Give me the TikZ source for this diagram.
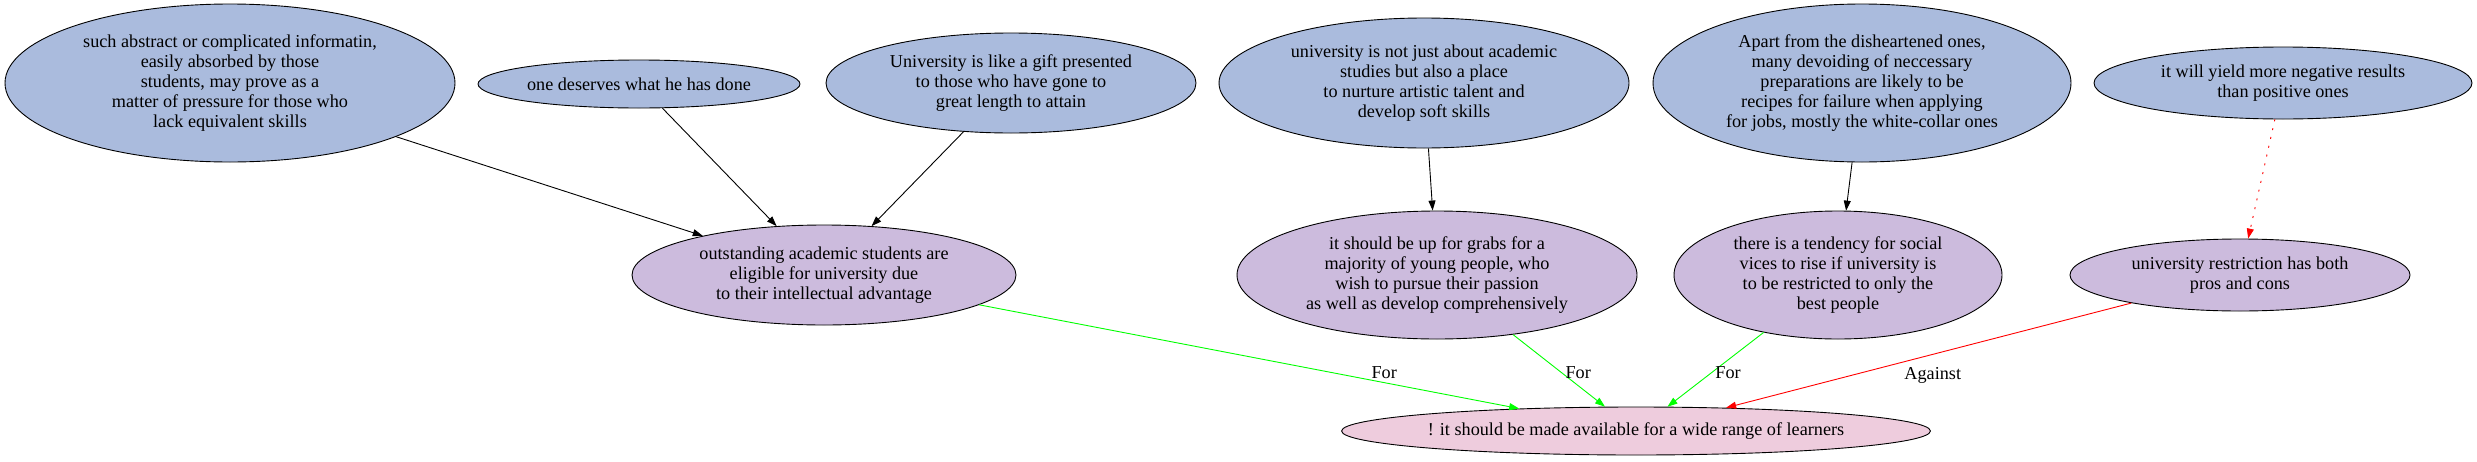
\documentclass[tikz,border=0pt]{standalone}
\usepackage{fontspec}
\setmainfont{Liberation Serif}
\usetikzlibrary{shapes.geometric,arrows.meta}

\definecolor{claimblue}{HTML}{AABBDD}
\definecolor{premisepurple}{HTML}{CCBBDD}
\definecolor{issuepink}{HTML}{EECCDD}

\begin{document}
\begin{tikzpicture}[x=1pt, y=-1pt,
    every node/.style={font=\fontsize{18.2}{20}\selectfont},
    argnode/.style={ellipse, draw, line width=0.9pt, inner sep=0pt, align=center},
    toprow/.style={argnode, fill=claimblue},
    midrow/.style={argnode, fill=premisepurple},
    link/.style={line width=0.9pt, -{Triangle[length=10pt,width=7pt]}},
    forlink/.style={link, green},
    againstlink/.style={link, red}]
      \useasboundingbox (0,0) rectangle (2477,461);
      % top row
      \node [toprow, minimum width=450, minimum height=158] (such) at (230,83) {such abstract or complicated informatin,\\ easily absorbed by those\\ students, may prove as a\\ matter of pressure for those who\\ lack equivalent skills};
      \node [toprow, minimum width=322, minimum height=48] (deserves) at (639,84) {one deserves what he has done};
      \node [toprow, minimum width=370, minimum height=100] (gift) at (1011,83) {University is like a gift presented\\ to those who have gone to\\ great length to attain};
      \node [toprow, minimum width=410, minimum height=130] (notjust) at (1424,83) {university is not just about academic\\ studies but also a place\\ to nurture artistic talent and\\ develop soft skills};
      \node [toprow, minimum width=418, minimum height=158] (apart) at (1862,83) {Apart from the disheartened ones,\\ many devoiding of neccessary\\ preparations are likely to be\\ recipes for failure when applying\\ for jobs, mostly the white-collar ones};
      \node [toprow, minimum width=378, minimum height=72] (yield) at (2283,83) {it will yield more negative results\\ than positive ones};
      % middle row
      \node [midrow, minimum width=384, minimum height=100] (outstanding) at (824,275) {outstanding academic students are\\ eligible for university due\\ to their intellectual advantage};
      \node [midrow, minimum width=400, minimum height=128] (grabs) at (1437,275) {it should be up for grabs for a\\ majority of young people, who\\ wish to pursue their passion\\ as well as develop comprehensively};
      \node [midrow, minimum width=328, minimum height=128] (tendency) at (1838,275) {there is a tendency for social\\ vices to rise if university is\\ to be restricted to only the\\ best people};
      \node [midrow, minimum width=340, minimum height=72] (restriction) at (2240,275) {university restriction has both\\ pros and cons};
      % bottom
      \node [argnode, fill=issuepink, minimum width=570, minimum height=48] (available) at (1636,431) {! it should be made available for a wide range of learners};
      % edges
      \draw [link] (such) -- (outstanding);
      \draw [link] (deserves) -- (outstanding);
      \draw [link] (gift) -- (outstanding);
      \draw [link] (notjust) -- (grabs);
      \draw [link] (apart) -- (tendency);
      \draw [link, red, dash pattern=on 2pt off 7pt] (yield) -- (restriction);
      \draw [forlink] (outstanding) -- (available) node [pos=0.75, above, black] {For};
      \draw [forlink] (grabs) -- (available) node [pos=0.53, right, black] {For};
      \draw [forlink] (tendency) -- (available) node [pos=0.54, right, black] {For};
      \draw [againstlink] (restriction) -- (available) node [pos=0.49, below=9pt, black] {Against};
\end{tikzpicture}
\end{document}
